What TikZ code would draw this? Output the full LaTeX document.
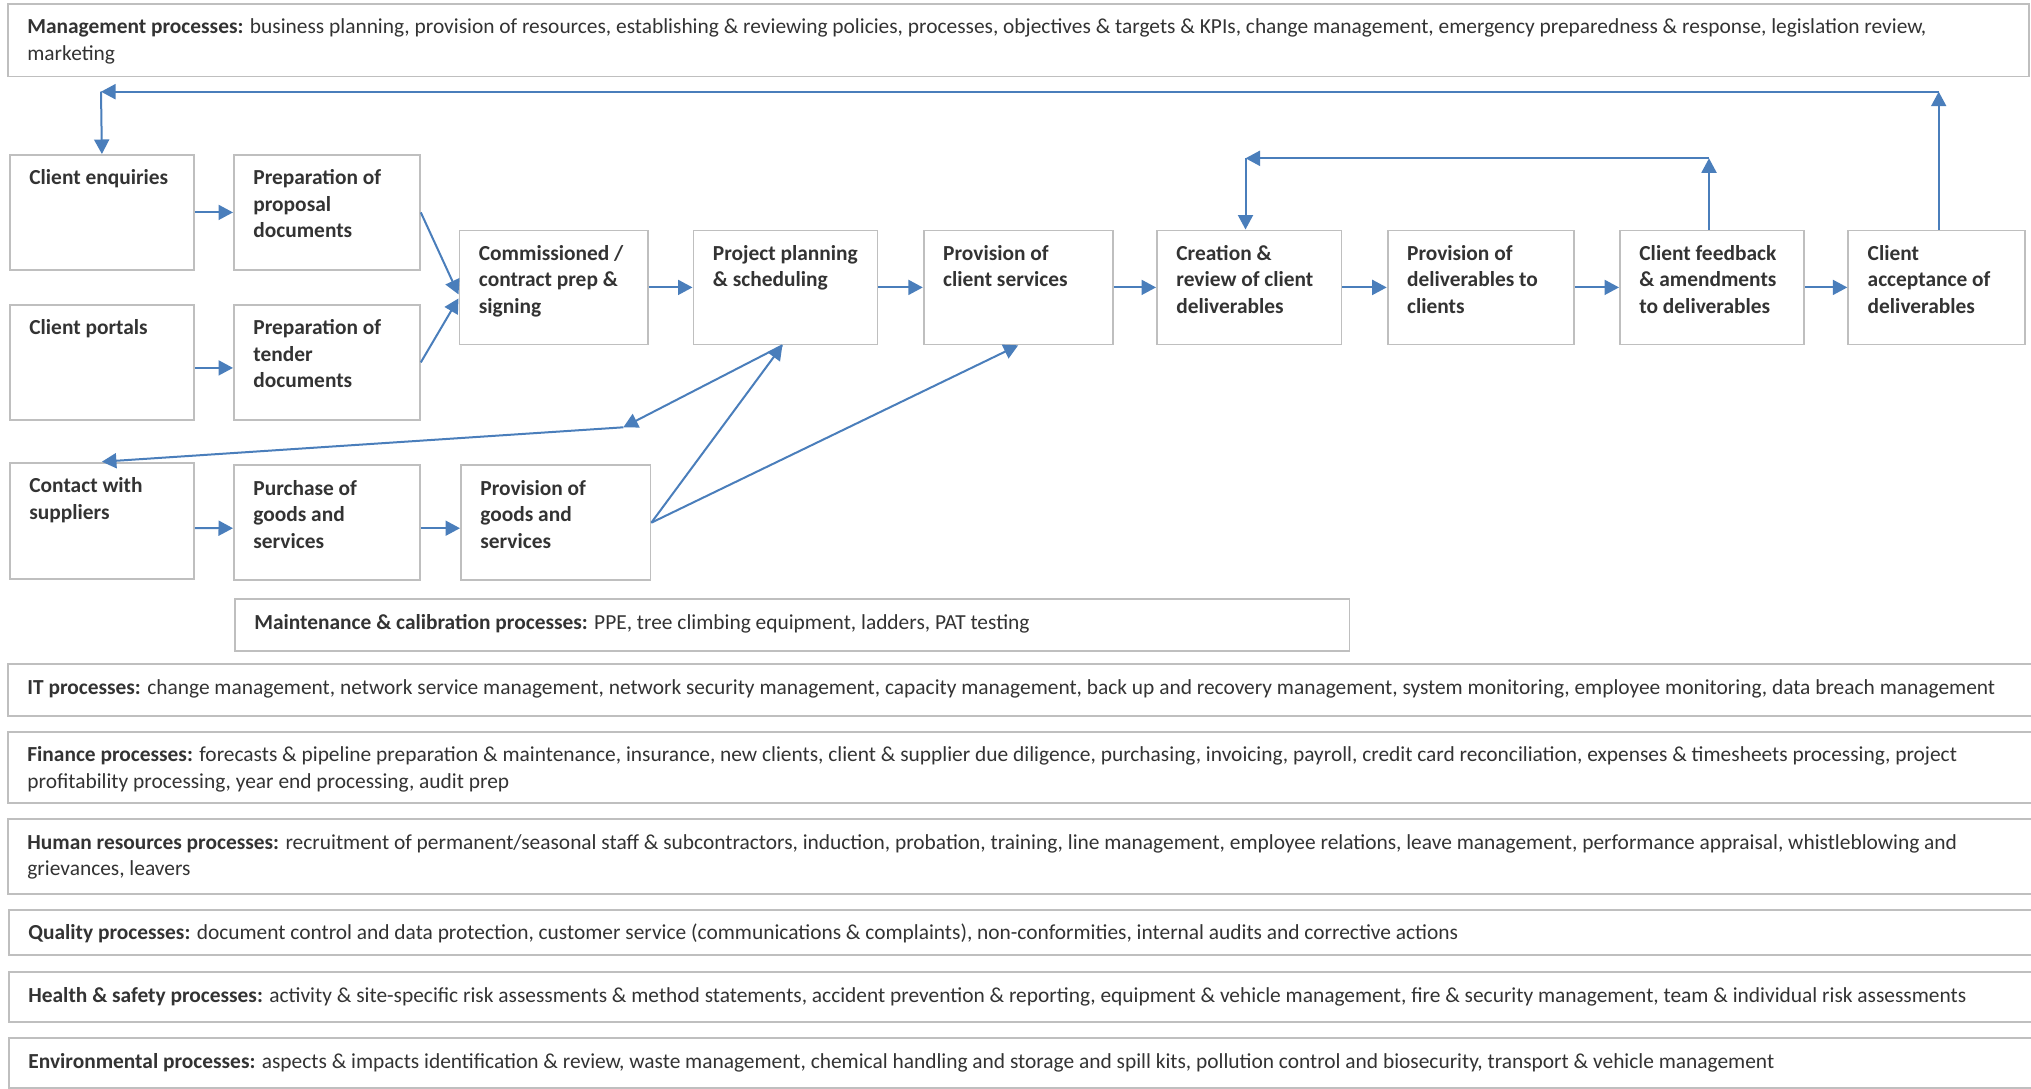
\documentclass[tikz,border=0pt]{standalone}
\usepackage{fontspec}
\setmainfont{Carlito}
\usetikzlibrary{arrows.meta,calc}
\definecolor{boxgray}{HTML}{BFBFBF}
\definecolor{arrowblue}{HTML}{4A7EBB}
\definecolor{txt}{HTML}{333333}
\newcommand\bxsetup{\raggedright\leftskip=19.5pt\parindent=0pt\vspace*{11.45pt}}
\newcommand\bx[6]{\node[pbox, minimum width=#4pt, minimum height=#5pt] (#1) at (#2,#3) {\parbox[c][#5pt][t]{#4pt}{\bxsetup\strut #6}};}
\begin{document}
\begin{tikzpicture}[x=1pt,y=-1pt,
  pbox/.style={draw=boxgray, line width=1.8pt, anchor=north west, inner sep=0pt, text=txt, font=\fontsize{21.4}{26.5}\selectfont},
  flow/.style={draw=arrowblue, line width=2pt, -{Triangle[length=14.5pt,width=15pt]}}]
\clip (0,0) rectangle (2031,1088);
\fill[white] (0,0) rectangle (2031,1088);
% top management
\bx{mgmt}{7}{3}{2021}{72.5}{\textbf{Management processes:} business planning, provision of resources, establishing \& reviewing policies, processes, objectives \& targets \& KPIs, change management, emergency preparedness \& response, legislation review,\\marketing}
% left column
\bx{enq}{9}{154}{184}{115}{\textbf{Client enquiries}}
\bx{prop}{233}{154}{186}{115}{\textbf{Preparation of\\proposal\\documents}}
\bx{portal}{9}{304}{184}{115}{\textbf{Client portals}}
\bx{tender}{233}{304}{186}{115}{\textbf{Preparation of\\tender\\documents}}
% main row
\bx{comm}{458.5}{229.5}{188.5}{114}{\textbf{Commissioned /\\contract prep \&\\signing}}
\bx{proj}{692.5}{229.5}{184}{114}{\textbf{Project planning\\\& scheduling}}
\bx{csvc}{922.8}{229.5}{189}{114}{\textbf{Provision of\\client services}}
\bx{create}{1156}{229.5}{184.6}{114}{\textbf{Creation \&\\review of client\\deliverables}}
\bx{pdel}{1386.7}{229.5}{186}{114}{\textbf{Provision of\\deliverables to\\clients}}
\bx{fb}{1619}{229.5}{184}{114}{\textbf{Client feedback\\\& amendments\\to deliverables}}
\bx{acc}{1847.3}{229.5}{177}{114}{\textbf{Client\\acceptance of\\deliverables}}
% suppliers row
\bx{contact}{9}{461.7}{184}{116}{\textbf{Contact with\\suppliers}}
\bx{purch}{233}{464.3}{186}{115}{\textbf{Purchase of\\goods and\\services}}
\bx{pgoods}{460}{464.3}{189.5}{115}{\textbf{Provision of\\goods and\\services}}
% support process bands
\bx{maint}{234}{598.3}{1114.5}{51.7}{\textbf{Maintenance \& calibration processes:} PPE, tree climbing equipment, ladders, PAT testing}
\bx{it}{7}{663.3}{2100}{51.7}{\textbf{IT processes:} change management, network service management, network security management, capacity management, back up and recovery management, system monitoring, employee monitoring, data breach management}
\bx{fin}{7}{730.7}{2100}{71.6}{\textbf{Finance processes:} forecasts \& pipeline preparation \& maintenance, insurance, new clients, client \& supplier due diligence, purchasing, invoicing, payroll, credit card reconciliation, expenses \& timesheets processing, project\\profitability processing, year end processing, audit prep}
\bx{hr}{7}{818.3}{2100}{75}{\textbf{Human resources processes:} recruitment of permanent/seasonal staff \& subcontractors, induction, probation, training, line management, employee relations, leave management, performance appraisal, whistleblowing and\\grievances, leavers}
\bx{qual}{8}{909}{2100}{45}{\textbf{Quality processes:} document control and data protection, customer service (communications \& complaints), non-conformities, internal audits and corrective actions}
\bx{hs}{8}{971.3}{2100}{49.4}{\textbf{Health \& safety processes:} activity \& site-specific risk assessments \& method statements, accident prevention \& reporting, equipment \& vehicle management, fire \& security management, team \& individual risk assessments}
\bx{env}{8}{1037.3}{2100}{49.4}{\textbf{Environmental processes:} aspects \& impacts identification \& review, waste management, chemical handling and storage and spill kits, pollution control and biosecurity, transport \& vehicle management}
% connectors
\draw[flow] (enq.east) -- (prop.west);
\draw[flow] ($(portal.east)+(0,5.5)$) -- ($(tender.west)+(0,5.5)$);
\draw[flow] (prop.east) -- ($(comm.west)+(0,7)$);
\draw[flow] (tender.east) -- ($(comm.west)+(0,11)$);
\draw[flow] (comm.east) -- (proj.west);
\draw[flow] (proj.east) -- (csvc.west);
\draw[flow] (csvc.east) -- (create.west);
\draw[flow] (create.east) -- (pdel.west);
\draw[flow] (pdel.east) -- (fb.west);
\draw[flow] (fb.east) -- (acc.west);
% top return loop
\coordinate (tR) at (1938.7,91.7);
\coordinate (tL) at (101,91.7);
\draw[flow] (acc.north -| tR) -- (tR);
\draw[flow] (tR) -- (tL);
\draw[flow] (tL) -- (enq.north);
% feedback loop
\coordinate (fR) at (1709,158.3);
\coordinate (fL) at (1245.5,158.3);
\draw[flow] (fb.north -| fR) -- (fR);
\draw[flow] (fR) -- (fL);
\draw[flow] (fL) -- (create.north -| fL);
% suppliers
\coordinate (sA) at (623.3,427.3);
\coordinate (pjB) at ($(proj.south)+(-3,0)$);
\draw[flow] (pjB) -- (sA);
\draw[flow] (sA) -- (contact.north);
\draw[flow] ($(contact.east)+(0,7.5)$) -- ($(purch.west)+(0,5.5)$);
\draw[flow] ($(purch.east)+(0,5.5)$) -- ($(pgoods.west)+(0,5.5)$);
\draw[flow] (pgoods.east) -- (pjB);
\draw[flow] (pgoods.east) -- (csvc.south);
\end{tikzpicture}
\end{document}
